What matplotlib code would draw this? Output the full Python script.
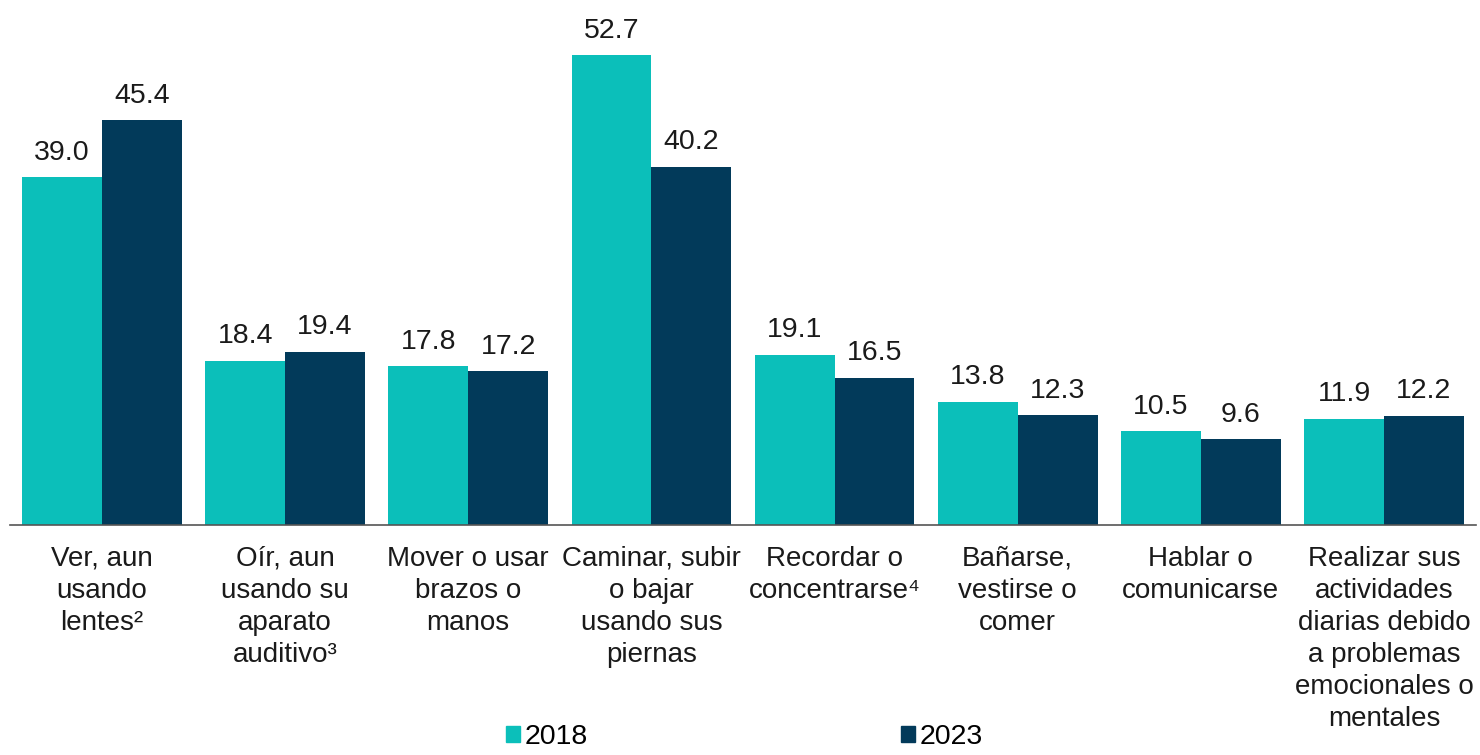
import numpy as np
import matplotlib
matplotlib.use("Agg")
import matplotlib.pyplot as plt
from matplotlib.patches import Patch

categories = [
    "Ver, aun\nusando\nlentes²",
    "Oír, aun\nusando su\naparato\nauditivo³",
    "Mover o usar\nbrazos o\nmanos",
    "Caminar, subir\no bajar\nusando sus\npiernas",
    "Recordar o\nconcentrarse⁴",
    "Bañarse,\nvestirse o\ncomer",
    "Hablar o\ncomunicarse",
    "Realizar sus\nactividades\ndiarias debido\na problemas\nemocionales o\nmentales",
]
values_2018 = [39.0, 18.4, 17.8, 52.7, 19.1, 13.8, 10.5, 11.9]
values_2023 = [45.4, 19.4, 17.2, 40.2, 16.5, 12.3, 9.6, 12.2]
years = ["2018", "2023"]

color_2018 = "#0BBFBA"
color_2023 = "#023A5A"

plt.rcParams["font.family"] = ["Liberation Sans", "DejaVu Sans"]

fig = plt.figure(figsize=(14.8, 7.55), dpi=100)
ax = fig.add_axes([0.007, 0.305, 0.990, 0.695])

x = np.arange(len(categories))
w = 0.436
b1 = ax.bar(x - w / 2, values_2018, w, color=color_2018)
b2 = ax.bar(x + w / 2, values_2023, w, color=color_2023)

for bars, vals in ((b1, values_2018), (b2, values_2023)):
    for rect, v in zip(bars, vals):
        ax.text(rect.get_x() + rect.get_width() / 2, v + 1.3, f"{v:.1f}",
                ha="center", va="bottom", fontsize=20.5, color="#1a1a1a")

ax.set_xlim(-0.5, len(categories) - 0.5)
ax.set_ylim(0, 58.9)
ax.set_yticks([])
ax.set_xticks(x)
ax.set_xticklabels(categories, fontsize=20, color="#1a1a1a", linespacing=1.3)
ax.tick_params(axis="x", length=0, pad=15)
for s in ("top", "right", "left"):
    ax.spines[s].set_visible(False)
ax.spines["bottom"].set_color("#555555")
ax.spines["bottom"].set_linewidth(1.2)

handles = [Patch(color=color_2018), Patch(color=color_2023)]
fig.legend(handles, years, loc="lower center", bbox_to_anchor=(0.503, -0.027), ncol=2,
           frameon=False, fontsize=20.5, handlelength=0.5, handleheight=0.5,
           handletextpad=0.15, columnspacing=11)

fig.savefig("out.png", dpi=100)
